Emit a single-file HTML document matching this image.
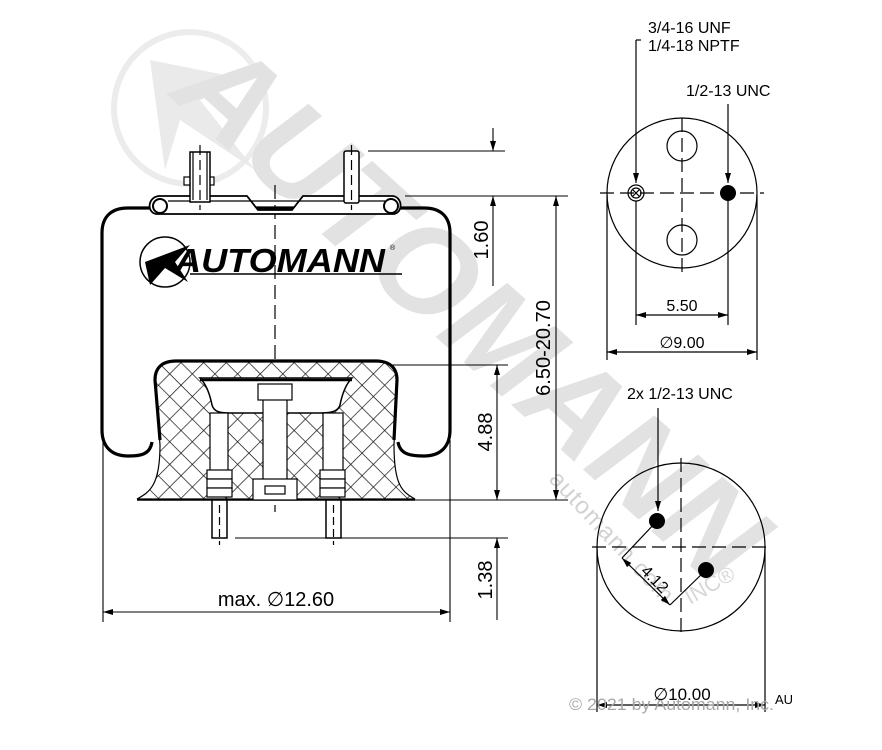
<!DOCTYPE html>
<html><head><meta charset="utf-8"><style>
html,body{margin:0;padding:0;background:#fff;width:882px;height:750px;overflow:hidden}
svg{display:block}
text{font-family:"Liberation Sans",sans-serif}
</style></head><body>
<svg width="882" height="750" viewBox="0 0 882 750" xmlns="http://www.w3.org/2000/svg">
<defs>
<pattern id="h" width="16" height="16" patternUnits="userSpaceOnUse" patternTransform="rotate(45)">
<rect width="16" height="16" fill="#fff"/>
<line x1="0" y1="0" x2="0" y2="16" stroke="#111" stroke-width="1.4"/>
<line x1="0" y1="0" x2="16" y2="0" stroke="#111" stroke-width="1.4"/>
</pattern>
<marker id="a" viewBox="0 0 10 6" refX="10" refY="3" markerWidth="10" markerHeight="6" orient="auto-start-reverse" markerUnits="userSpaceOnUse"><path d="M0,0 L10,3 L0,6z" fill="#000"/></marker>
</defs>

<circle cx="190" cy="108" r="76" fill="none" stroke="#ececec" stroke-width="6"/>
<path d="M150,60 L250,80 L200,100 L255,170 L180,120 L165,170z" fill="#eaeaea"/>
<text transform="translate(200,60) rotate(42)" x="0" y="48" font-size="128" font-weight="bold" font-style="italic" fill="#e2e2e2" textLength="740" lengthAdjust="spacingAndGlyphs">AUTOMANN</text>
<text transform="translate(548,480) rotate(47)" font-size="24" fill="#d2d2d2" letter-spacing="1">automann.com</text>
<text transform="translate(690,605) rotate(-30)" font-size="22" fill="#d8d8d8">INC®</text>

<g stroke="#000" fill="none" stroke-width="1.2">
<line x1="275" y1="185" x2="275" y2="512" stroke-dasharray="14,6"/>

<path d="M152,442 C150,455 140,456 128,456 C110,456 102,445 102,430 L102,233 C102,216 112,208 128,208 L424,208 C440,208 450,216 450,233 L450,430 C450,445 442,456 424,456 C412,456 400,455 398,442" stroke-width="3.2"/>
<path d="M137,499 C150,492 160,485 160,445 L155,380 C155,368 162,361 176,361 L376,361 C390,361 397,368 397,380 L394,445 C394,485 402,492 415,499 Z" fill="url(#h)" stroke-width="1.2"/>
<path d="M160,440 L155,380 C155,368 162,361 176,361 L376,361 C390,361 397,368 397,380 L394,440" stroke-width="3.2"/>
<line x1="137" y1="500" x2="415" y2="500" stroke-width="1.5"/>
<path d="M200,378 L352,378 C345,385 342,395 340,405 C338,412 330,413 320,413 L230,413 C220,413 214,412 212,405 C210,395 207,385 200,378 Z" fill="#fff" stroke-width="1.5"/>
<line x1="200" y1="380" x2="352" y2="380" stroke-width="2.5"/>
<rect x="210" y="413" width="18" height="62" fill="#fff"/>
<rect x="323" y="413" width="20" height="62" fill="#fff"/>
<rect x="263" y="386" width="24" height="94" fill="#fff"/>
<rect x="258" y="384" width="34" height="16" fill="#fff"/>
<rect x="253" y="479" width="44" height="21" fill="#fff"/>
<rect x="265" y="486" width="20" height="8" fill="#fff"/>
<g fill="#fff"><rect x="207" y="470" width="25" height="9"/><rect x="207" y="479" width="25" height="9"/><rect x="207" y="488" width="25" height="9"/>
<rect x="320" y="470" width="25" height="9"/><rect x="320" y="479" width="25" height="9"/><rect x="320" y="488" width="25" height="9"/></g>
<rect x="212" y="500" width="15" height="38" fill="#fff" stroke-width="1.5"/>
<rect x="326" y="500" width="15" height="38" fill="#fff" stroke-width="1.5"/>
<line x1="219.5" y1="505" x2="219.5" y2="545" stroke-dasharray="8,4"/>
<line x1="333.5" y1="505" x2="333.5" y2="545" stroke-dasharray="8,4"/>

<path d="M160,196 L247,196 L258,210 L292,210 L303,196 L392,196 C402,196 404,212 394,214 L156,214 C146,212 148,196 160,196 Z" fill="#fff" stroke-width="1.8"/>
<circle cx="160" cy="206" r="7" stroke-width="2"/>
<circle cx="391" cy="206" r="7" stroke-width="2"/>
<line x1="168" y1="201" x2="385" y2="201"/>
<rect x="184" y="177" width="30" height="8" fill="#fff"/>
<rect x="190" y="152" width="20" height="50" fill="#fff" stroke-width="1.5"/>
<line x1="193" y1="152" x2="193" y2="200"/><line x1="207" y1="152" x2="207" y2="200"/>
<line x1="200" y1="145" x2="200" y2="210" stroke-dasharray="10,5"/>
<rect x="344" y="151" width="15" height="52" rx="2" fill="#fff" stroke-width="1.5"/>
<line x1="351.5" y1="145" x2="351.5" y2="210" stroke-dasharray="10,5"/>

<circle cx="165" cy="262" r="25" stroke-width="1.5"/>
<line x1="190" y1="274" x2="402" y2="274" stroke-width="1.5"/>
</g>
<path d="M145,262 L190,245 L175,262 L188,282 L165,268 L150,285z" fill="#000"/>
<text x="175" y="272" font-size="33" font-weight="bold" font-style="italic" fill="#000" textLength="210" lengthAdjust="spacingAndGlyphs">AUTOMANN</text>
<text x="390" y="250" font-size="7" fill="#000">®</text>

<g stroke="#000" stroke-width="1.1" fill="none">
<line x1="368" y1="151" x2="505" y2="151"/>
<line x1="405" y1="196" x2="568" y2="196"/>
<line x1="493" y1="128" x2="493" y2="151" marker-end="url(#a)"/>
<line x1="493" y1="286" x2="493" y2="196" marker-end="url(#a)"/>
<line x1="556" y1="196" x2="556" y2="500" marker-start="url(#a)" marker-end="url(#a)"/>
<line x1="390" y1="365" x2="508" y2="365"/>
<line x1="415" y1="500" x2="568" y2="500"/>
<line x1="497" y1="365" x2="497" y2="500" marker-start="url(#a)" marker-end="url(#a)"/>
<line x1="235" y1="538" x2="508" y2="538"/>
<line x1="497" y1="620" x2="497" y2="538" marker-end="url(#a)"/>
<line x1="103" y1="440" x2="103" y2="622"/>
<line x1="450" y1="440" x2="450" y2="622"/>
<line x1="103" y1="612" x2="450" y2="612" marker-start="url(#a)" marker-end="url(#a)"/>
</g>
<g font-size="20" fill="#000">
<text transform="translate(488,240) rotate(-90)" text-anchor="middle">1.60</text>
<text transform="translate(550,348) rotate(-90)" text-anchor="middle">6.50-20.70</text>
<text transform="translate(492,432) rotate(-90)" text-anchor="middle">4.88</text>
<text transform="translate(492,580) rotate(-90)" text-anchor="middle">1.38</text>
<text x="276" y="606" text-anchor="middle">max. ∅12.60</text>
</g>

<g stroke="#000" stroke-width="1.2" fill="none">
<circle cx="682" cy="193" r="75"/>
<line x1="600" y1="193" x2="764" y2="193" stroke-dasharray="14,6"/>
<line x1="682" y1="118" x2="682" y2="274" stroke-dasharray="14,6"/>
<circle cx="682" cy="146" r="15"/>
<circle cx="682" cy="240" r="15"/>
<circle cx="636" cy="193" r="8"/><circle cx="636" cy="193" r="5"/>
<path d="M633,190 l6,6 M639,190 l-6,6"/>
<line x1="636" y1="40" x2="636" y2="183" marker-end="url(#a)"/>
<line x1="636" y1="40" x2="641" y2="40"/>
<line x1="728" y1="104" x2="728" y2="183" marker-end="url(#a)"/>
<line x1="636" y1="201" x2="636" y2="325"/>
<line x1="728" y1="201" x2="728" y2="325"/>
<line x1="636" y1="315" x2="728" y2="315" marker-start="url(#a)" marker-end="url(#a)"/>
<line x1="607" y1="195" x2="607" y2="360"/>
<line x1="757" y1="195" x2="757" y2="360"/>
<line x1="607" y1="352" x2="757" y2="352" marker-start="url(#a)" marker-end="url(#a)"/>
</g>
<circle cx="728" cy="193" r="8" fill="#000"/>
<g font-size="16" fill="#000">
<text x="648" y="33">3/4-16 UNF</text>
<text x="648" y="51">1/4-18 NPTF</text>
<text x="686" y="96">1/2-13 UNC</text>
<text x="682" y="311" text-anchor="middle">5.50</text>
<text x="682" y="348" text-anchor="middle">∅9.00</text>
<text x="627" y="399">2x 1/2-13 UNC</text>
</g>

<g stroke="#000" stroke-width="1.2" fill="none">
<circle cx="681" cy="547" r="84"/>
<line x1="592" y1="547" x2="772" y2="547" stroke-dasharray="14,6"/>
<line x1="681" y1="458" x2="681" y2="636" stroke-dasharray="14,6"/>
<line x1="658" y1="408" x2="658" y2="511" marker-end="url(#a)"/>
<line x1="657" y1="521" x2="622" y2="558"/>
<line x1="706" y1="570" x2="670" y2="605"/>
<line x1="622" y1="558" x2="670" y2="605" marker-start="url(#a)" marker-end="url(#a)"/>
<line x1="597" y1="547" x2="597" y2="712"/>
<line x1="765" y1="547" x2="765" y2="712"/>
<line x1="597" y1="705" x2="765" y2="705" marker-start="url(#a)" marker-end="url(#a)"/>
</g>
<circle cx="657" cy="521" r="8" fill="#000"/>
<circle cx="706" cy="570" r="8" fill="#000"/>
<text transform="translate(640,572) rotate(45)" font-size="16" fill="#000">4.12</text>
<text x="569" y="710" font-size="17" fill="#a8a8a8" textLength="205" lengthAdjust="spacingAndGlyphs">© 2021 by Automann, Inc.</text>
<text x="682" y="700" font-size="17" fill="#000" text-anchor="middle">∅10.00</text>
<text x="775" y="704" font-size="13" fill="#000">AU</text>
</svg>
</body></html>
